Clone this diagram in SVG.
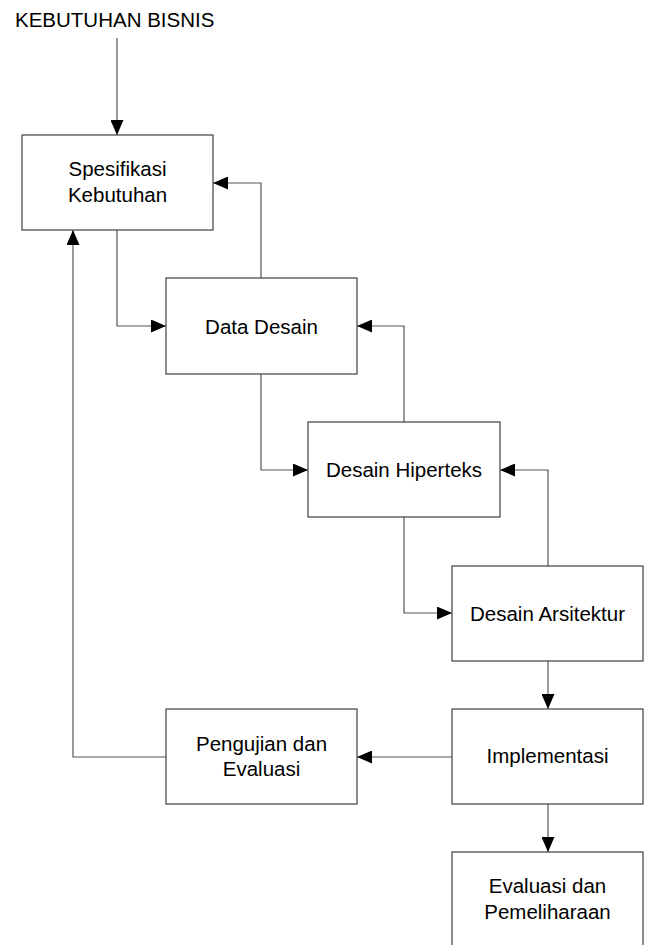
<svg xmlns="http://www.w3.org/2000/svg" width="645" height="945" viewBox="0 0 645 945">
<style>
.box{fill:#fff;stroke:#404040;stroke-width:1.2}
.t{font-family:"Liberation Sans",Arial,sans-serif;font-size:20.5px;fill:#000;text-anchor:middle}
.c{fill:none;stroke:#555;stroke-width:1.2}
</style>
<defs>
<marker id="ah" viewBox="0 0 15 13" refX="15" refY="6.5" markerWidth="15" markerHeight="13" markerUnits="userSpaceOnUse" orient="auto">
<path d="M0,0 L15,6.5 L0,13 Z" fill="#000"/>
</marker>
</defs>
<text x="15" y="27" font-family="Liberation Sans,Arial,sans-serif" font-size="20.5" fill="#000">KEBUTUHAN BISNIS</text>
<g id="connectors">
<path class="c" d="M117,38 V135" marker-end="url(#ah)"/>
<path class="c" d="M117,230 V326 H166" marker-end="url(#ah)"/>
<path class="c" d="M261,278 V183 H213" marker-end="url(#ah)"/>
<path class="c" d="M261,374 V470 H308" marker-end="url(#ah)"/>
<path class="c" d="M404,422 V326 H357" marker-end="url(#ah)"/>
<path class="c" d="M404,517 V613 H452" marker-end="url(#ah)"/>
<path class="c" d="M548,566 V470 H500" marker-end="url(#ah)"/>
<path class="c" d="M548,661 V709" marker-end="url(#ah)"/>
<path class="c" d="M452,757 H357" marker-end="url(#ah)"/>
<path class="c" d="M548,804 V852" marker-end="url(#ah)"/>
<path class="c" d="M166,757 H73 V230" marker-end="url(#ah)"/>
</g>
<g id="spesifikasi">
<rect class="box" x="22" y="135" width="191" height="95"/>
<text class="t" x="117.5" y="176">Spesifikasi</text>
<text class="t" x="117.5" y="201.5">Kebutuhan</text>
</g>
<g id="data-desain">
<rect class="box" x="166" y="278" width="191" height="96"/>
<text class="t" x="261.5" y="333.5">Data Desain</text>
</g>
<g id="desain-hiperteks">
<rect class="box" x="308" y="422" width="192" height="95"/>
<text class="t" x="404" y="477">Desain Hiperteks</text>
</g>
<g id="desain-arsitektur">
<rect class="box" x="452" y="566" width="191" height="95"/>
<text class="t" x="547.5" y="620.5">Desain Arsitektur</text>
</g>
<g id="implementasi">
<rect class="box" x="452" y="709" width="191" height="95"/>
<text class="t" x="547.5" y="763">Implementasi</text>
</g>
<g id="pengujian">
<rect class="box" x="166" y="709" width="191" height="95"/>
<text class="t" x="261.5" y="750.5">Pengujian dan</text>
<text class="t" x="261.5" y="776">Evaluasi</text>
</g>
<g id="evaluasi-pemeliharaan">
<rect class="box" x="452" y="852" width="191" height="96"/>
<text class="t" x="547.5" y="893">Evaluasi dan</text>
<text class="t" x="547.5" y="919">Pemeliharaan</text>
</g>
</svg>
